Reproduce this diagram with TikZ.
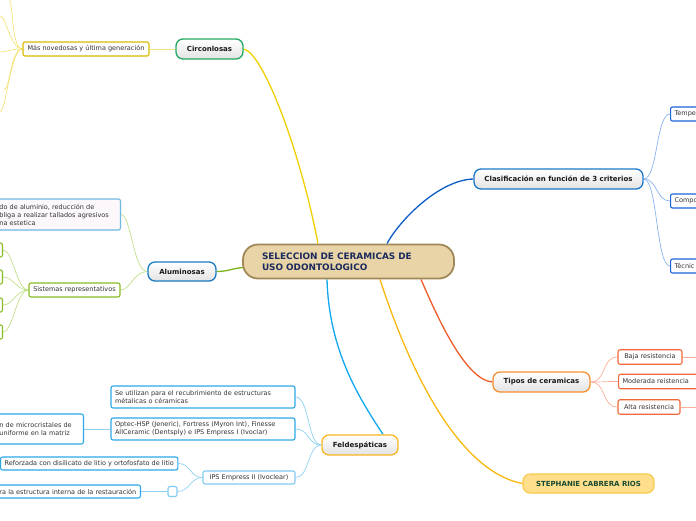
\documentclass[tikz,border=0pt]{standalone}
\usepackage{fontspec}
\setmainfont{DejaVu Sans}
\usetikzlibrary{calc}
\pgfdeclarelayer{bg}
\pgfsetlayers{bg,main}
\definecolor{cenfill}{HTML}{E9D4A8}
\definecolor{cenline}{HTML}{A08858}
\definecolor{centext}{HTML}{1B2A5C}
\definecolor{cyel}{HTML}{F0D000}
\definecolor{cyell}{HTML}{F5E27A}
\definecolor{cgreenb}{HTML}{22A862}
\definecolor{calu}{HTML}{7CB518}
\definecolor{calul}{HTML}{C0E08A}
\definecolor{calub}{HTML}{1A7CC0}
\definecolor{colive}{HTML}{88BB20}
\definecolor{clblue}{HTML}{70B8E0}
\definecolor{cfeld}{HTML}{10A8F0}
\definecolor{cfeldl}{HTML}{90D2F2}
\definecolor{cfeldb}{HTML}{F8B820}
\definecolor{cfeldc}{HTML}{2CA8E8}
\definecolor{cclas}{HTML}{0A5CC8}
\definecolor{cclasl}{HTML}{88B4F0}
\definecolor{cclasb}{HTML}{1A78C8}
\definecolor{cclasc}{HTML}{1A64D8}
\definecolor{ctip}{HTML}{F05A28}
\definecolor{ctipl}{HTML}{F8B098}
\definecolor{ctipb}{HTML}{F59030}
\definecolor{ctipc}{HTML}{F06838}
\definecolor{csteph}{HTML}{F8B810}
\definecolor{cstephf}{HTML}{FFDF8C}
\definecolor{cstephb}{HTML}{F8C848}
\definecolor{cstepht}{HTML}{1A4A30}
\definecolor{ctext}{HTML}{333333}
\begin{document}
\begin{tikzpicture}[x=1pt,y=-1pt,
  mainbox/.style={draw, rounded corners=7pt, line width=1.3pt, top color=white, bottom color=gray!22,
    font=\bfseries\fontsize{7}{8}\selectfont, text=black!90, minimum height=20pt, inner sep=0pt},
  subbox/.style={draw, rounded corners=2pt, line width=1.1pt, fill=white,
    font=\fontsize{6.5}{8.5}\selectfont, text=ctext, inner xsep=4pt, inner ysep=0pt, minimum height=14pt},
  branch/.style={line width=1.3pt},
  twig/.style={line width=0.7pt}]
\useasboundingbox (0,0) rectangle (696,520);

% centre
\node[draw=cenline, fill=cenfill, line width=1.8pt, rounded corners=15pt, minimum width=211pt, minimum height=34pt,
  text width=173pt, inner xsep=19pt, align=left, font=\bfseries\fontsize{8.9}{11}\selectfont, text=centext]
  (cen) at (348.5,261.5) {SELECCION DE CERAMICAS DE\\USO ODONTOLOGICO};

% Circonlosas
\node[mainbox, draw=cgreenb, minimum width=67pt] (circ) at (209.5,49) {Circonlosas};
\node[subbox, draw=cyel!90!black, minimum width=126pt] (mas) at (86,49) {Más novedosas y última generación};
\coordinate (m1) at (8,-2);
\coordinate (m2) at (0,16);
\coordinate (m3) at (0,52);
\coordinate (m4) at (4,90);
\coordinate (m5) at (0,112);

% Aluminosas
\node[mainbox, draw=calub, minimum width=68pt, minimum height=19pt] (alu) at (182,271.5) {Aluminosas};
\node[subbox, draw=clblue, fill=white!97!violet, anchor=east, text width=117pt, align=left, minimum height=31pt,
  font=\fontsize{6.5}{8}\selectfont] (aluc) at (121,214.5)
  {do de aluminio, reducción de\\bliga a realizar tallados agresivos\\na estetica};
\node[subbox, draw=colive, minimum width=91pt] (sis) at (74.5,290) {Sistemas representativos};
\node[subbox, draw=colive, anchor=east, minimum width=20pt] (s1) at (3,250) {};
\node[subbox, draw=colive, anchor=east, minimum width=20pt] (s2) at (3,277) {};
\node[subbox, draw=colive, anchor=east, minimum width=20pt] (s3) at (3,305) {};
\node[subbox, draw=colive, anchor=east, minimum width=20pt] (s4) at (3,332) {};

% Feldespaticas
\node[mainbox, draw=cfeldb, minimum width=76pt] (feld) at (360,445) {Feldespáticas};
\node[subbox, draw=cfeldc, text width=176pt, align=left, minimum height=22pt, font=\fontsize{6.5}{8}\selectfont]
  (f1) at (203,397) {Se utilizan para el recubrimiento de estructuras\\métalicas o céramicas};
\node[subbox, draw=cfeldc, text width=176pt, align=left, minimum height=22pt, font=\fontsize{6.5}{8}\selectfont]
  (f2) at (203,429) {Optec-HSP (Jeneric), Fortress (Myron Int), Finesse\\AllCeramic (Dentsply) e IPS Empress I (Ivoclar)};
\node[subbox, draw=cfeldc, anchor=east, text width=80pt, align=left, minimum height=30pt, font=\fontsize{6.5}{8}\selectfont]
  (f2a) at (84,429) {n de microcristales de\\uniforme en la matriz};
\node[subbox, draw=cfeldc!60, minimum width=92pt, minimum height=13pt] (f3) at (249,477.5) {IPS Empress II (Ivoclear)};
\node[subbox, draw=cfeldc, anchor=west, minimum width=177pt, minimum height=13pt] (f3a) at (0,463.5)
  {Reforzada con disilicato de litio y ortofosfato de litio};
\node[subbox, draw=cfeldc!60, minimum width=9pt, minimum height=10pt, inner xsep=0pt] (f3b) at (172.5,491.5) {};
\node[subbox, draw=cfeldc, anchor=east, text width=137pt, align=left, minimum height=13pt] (f3c) at (141,491.5)
  {ra la estructura interna de la restauración};

% Clasificacion
\node[mainbox, draw=cclasb, minimum width=169pt] (clas) at (558.5,179) {Clasificación en función de 3 criterios};
\node[subbox, draw=cclasc, anchor=west, text width=50pt, align=left] (k1) at (670,114) {Tempe};
\node[subbox, draw=cclasc, anchor=west, text width=50pt, align=left] (k2) at (670,201) {Compo};
\node[subbox, draw=cclasc, anchor=west, text width=50pt, align=left] (k3) at (670,266) {Técnic};

% Tipos
\node[mainbox, draw=ctipb, minimum width=97pt] (tip) at (541.5,382) {Tipos de ceramicas};
\node[subbox, draw=ctipc, minimum width=64pt, minimum height=14.5pt] (t1) at (650,357) {Baja resistencia};
\node[subbox, draw=ctipc, anchor=west, text width=90pt, align=left, minimum height=14.5pt] (t2) at (618,381.5) {Moderada reistencia};
\node[subbox, draw=ctipc, minimum width=62pt, minimum height=14.5pt] (t3) at (649,407) {Alta resistencia};
\coordinate (t1e) at (697,357);
\coordinate (t3e) at (697,407);

% Stephanie
\node[draw=cstephb, fill=cstephf, line width=1.1pt, rounded corners=7pt, minimum width=131pt, minimum height=19pt,
  inner sep=0pt, font=\bfseries\fontsize{7}{8}\selectfont, text=cstepht] (steph) at (588.5,483.5) {STEPHANIE CABRERA RIOS};

\begin{pgfonlayer}{bg}
  % main branches
  \draw[branch, cyel] (circ.east) .. controls +(19,3) and +(-18,-94) .. ($(cen.north)+(-30.5,0)$);
  \draw[branch, calu] ($(cen.west)+(1,6)$) .. controls +(-12,1) and +(12,0) .. (alu.east);
  \draw[branch, cfeld] ($(cen.south)+(-21.5,0)$) .. controls +(2,72) and +(-23,-35) .. ($(feld.north)+(23,0)$);
  \draw[branch, cclas] ($(cen.north)+(38.5,0)$) .. controls +(13,-24) and +(-34,1) .. (clas.west);
  \draw[branch, ctip] ($(cen.south)+(72.5,0)$) .. controls +(14,32) and +(-28,-2) .. (tip.west);
  \draw[branch, csteph] ($(cen.south)+(31.5,0)$) .. controls +(20,62) and +(-73,-14) .. (steph.west);
  % circonlosas twigs
  \draw[twig, cyell] (circ.west) -- (mas.east);
  \foreach \c in {m1,m2,m3,m4,m5}
    \draw[twig, cyell] (mas.west) .. controls +(-12,0) and +(6,0) .. (\c);
  % aluminosas twigs
  \draw[twig, calul] (alu.west) .. controls +(-14,0) and +(10,0) .. (aluc.east);
  \draw[twig, calul] (alu.west) .. controls +(-14,0) and +(10,0) .. (sis.east);
  \foreach \c in {s1,s2,s3,s4}
    \draw[twig, calul] (sis.west) .. controls +(-12,0) and +(10,0) .. (\c.east);
  % feldespaticas twigs
  \foreach \c in {f1,f2,f3}
    \draw[twig, cfeldl] (feld.west) .. controls +(-14,0) and +(14,0) .. (\c.east);
  \draw[twig, cfeldl] (f2.west) -- (f2a.east);
  \draw[twig, cfeldl] (f3.west) .. controls +(-12,0) and +(12,0) .. (f3a.east);
  \draw[twig, cfeldl] (f3.west) .. controls +(-12,0) and +(12,0) .. (f3b.east);
  \draw[twig, cfeldl] (f3b.west) -- (f3c.east);
  % clasificacion twigs
  \foreach \c in {k1,k2,k3}
    \draw[twig, cclasl] (clas.east) .. controls +(14,0) and +(-14,0) .. (\c.west);
  % tipos twigs
  \draw[twig, ctipl] (tip.east) .. controls +(16,0) and +(-16,0) .. (t1.west);
  \draw[twig, ctipl] (tip.east) .. controls +(16,0) and +(-16,0) .. (t2.west);
  \draw[twig, ctipl] (tip.east) .. controls +(16,0) and +(-16,0) .. (t3.west);
  \draw[twig, ctipl] (t1.east) -- (t1e);
  \draw[twig, ctipl] (t3.east) -- (t3e);
\end{pgfonlayer}
\end{tikzpicture}
\end{document}
